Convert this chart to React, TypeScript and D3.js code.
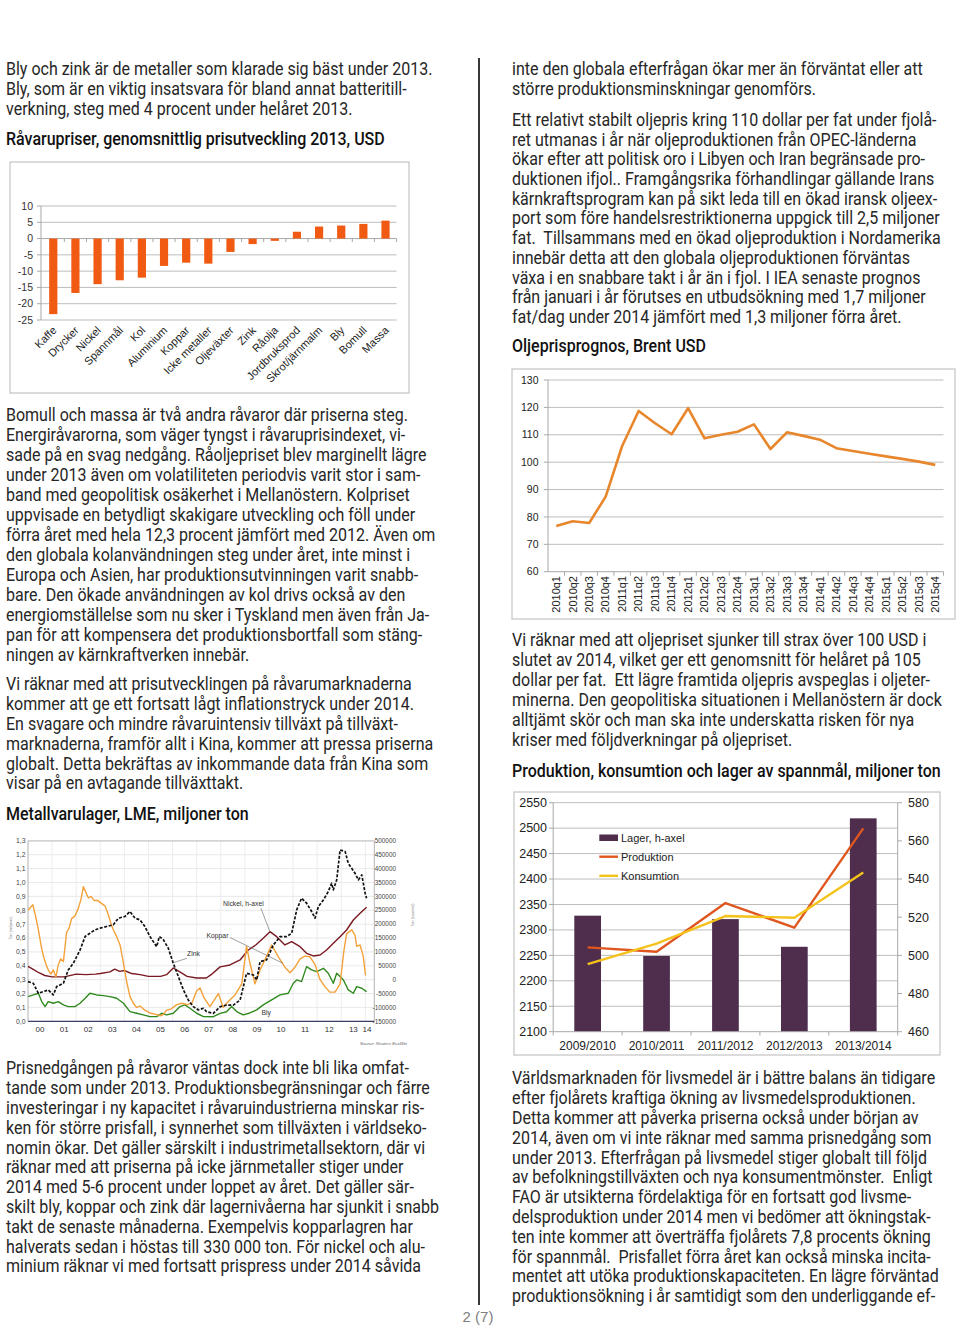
import React from 'react';
import * as d3 from 'd3';

// ---------------- Text content ----------------
const textLeftA = [
  'Bly och zink är de metaller som klarade sig bäst under 2013.',
  'Bly, som är en viktig insatsvara för bland annat batteritill-',
  'verkning, steg med 4 procent under helåret 2013.',
];
const titlePrices = 'Råvarupriser, genomsnittlig prisutveckling 2013, USD';
const textLeftB = [
  'Bomull och massa är två andra råvaror där priserna steg.',
  'Energiråvarorna, som väger tyngst i råvaruprisindexet, vi-',
  'sade på en svag nedgång. Råoljepriset blev marginellt lägre',
  'under 2013 även om volatiliteten periodvis varit stor i sam-',
  'band med geopolitisk osäkerhet i Mellanöstern. Kolpriset',
  'uppvisade en betydligt skakigare utveckling och föll under',
  'förra året med hela 12,3 procent jämfört med 2012. Även om',
  'den globala kolanvändningen steg under året, inte minst i',
  'Europa och Asien, har produktionsutvinningen varit snabb-',
  'bare. Den ökade användningen av kol drivs också av den',
  'energiomställelse som nu sker i Tyskland men även från Ja-',
  'pan för att kompensera det produktionsbortfall som stäng-',
  'ningen av kärnkraftverken innebär.',
];
const textLeftC = [
  'Vi räknar med att prisutvecklingen på råvarumarknaderna',
  'kommer att ge ett fortsatt lågt inflationstryck under 2014.',
  'En svagare och mindre råvaruintensiv tillväxt på tillväxt-',
  'marknaderna, framför allt i Kina, kommer att pressa priserna',
  'globalt. Detta bekräftas av inkommande data från Kina som',
  'visar på en avtagande tillväxttakt.',
];
const titleMetals = 'Metallvarulager, LME, miljoner ton';
const textLeftD = [
  'Prisnedgången på råvaror väntas dock inte bli lika omfat-',
  'tande som under 2013. Produktionsbegränsningar och färre',
  'investeringar i ny kapacitet i råvaruindustrierna minskar ris-',
  'ken för större prisfall, i synnerhet som tillväxten i världseko-',
  'nomin ökar. Det gäller särskilt i industrimetallsektorn, där vi',
  'räknar med att priserna på icke järnmetaller stiger under',
  '2014 med 5-6 procent under loppet av året. Det gäller sär-',
  'skilt bly, koppar och zink där lagernivåerna har sjunkit i snabb',
  'takt de senaste månaderna. Exempelvis kopparlagren har',
  'halverats sedan i höstas till 330 000 ton. För nickel och alu-',
  'minium räknar vi med fortsatt prispress under 2014 såvida',
];
const textRightE = [
  'inte den globala efterfrågan ökar mer än förväntat eller att',
  'större produktionsminskningar genomförs.',
];
const textRightF = [
  'Ett relativt stabilt oljepris kring 110 dollar per fat under fjolå-',
  'ret utmanas i år när oljeproduktionen från OPEC-länderna',
  'ökar efter att politisk oro i Libyen och Iran begränsade pro-',
  'duktionen ifjol.. Framgångsrika förhandlingar gällande Irans',
  'kärnkraftsprogram kan på sikt leda till en ökad iransk oljeex-',
  'port som före handelsrestriktionerna uppgick till 2,5 miljoner',
  'fat.  Tillsammans med en ökad oljeproduktion i Nordamerika',
  'innebär detta att den globala oljeproduktionen förväntas',
  'växa i en snabbare takt i år än i fjol. I IEA senaste prognos',
  'från januari i år förutses en utbudsökning med 1,7 miljoner',
  'fat/dag under 2014 jämfört med 1,3 miljoner förra året.',
];
const titleOil = 'Oljeprisprognos, Brent USD';
const textRightG = [
  'Vi räknar med att oljepriset sjunker till strax över 100 USD i',
  'slutet av 2014, vilket ger ett genomsnitt för helåret på 105',
  'dollar per fat.  Ett lägre framtida oljepris avspeglas i oljeter-',
  'minerna. Den geopolitiska situationen i Mellanöstern är dock',
  'alltjämt skör och man ska inte underskatta risken för nya',
  'kriser med följdverkningar på oljepriset.',
];
const titleGrain = 'Produktion, konsumtion och lager av spannmål, miljoner ton';
const textRightH = [
  'Världsmarknaden för livsmedel är i bättre balans än tidigare',
  'efter fjolårets kraftiga ökning av livsmedelsproduktionen.',
  'Detta kommer att påverka priserna också under början av',
  '2014, även om vi inte räknar med samma prisnedgång som',
  'under 2013. Efterfrågan på livsmedel stiger globalt till följd',
  'av befolkningstillväxten och nya konsumentmönster.  Enligt',
  'FAO är utsikterna fördelaktiga för en fortsatt god livsme-',
  'delsproduktion under 2014 men vi bedömer att ökningstak-',
  'ten inte kommer att överträffa fjolårets 7,8 procents ökning',
  'för spannmål.  Prisfallet förra året kan också minska incita-',
  'mentet att utöka produktionskapaciteten. En lägre förväntad',
  'produktionsökning i år samtidigt som den underliggande ef-',
];
const pageNumber = '2 (7)';

// ---------------- Chart 1: price change ----------------
const priceCategories = ['Kaffe', 'Drycker', 'Nickel', 'Spannmål', 'Kol', 'Aluminium', 'Koppar', 'Icke metaller', 'Oljeväxter', 'Zink', 'Råolja', 'Jordbruksprod', 'Skrot/järnmalm', 'Bly', 'Bomull', 'Massa'];
const priceChange2013 = [-23.2, -16.7, -14.0, -12.8, -12.0, -8.4, -7.4, -7.7, -4.1, -1.7, -0.7, 2.1, 3.7, 4.0, 4.5, 5.5];
const priceTicks = [10, 5, 0, -5, -10, -15, -20, -25];

// ---------------- Chart 2: oil ----------------
const oilQuarters = ['2010q1', '2010q2', '2010q3', '2010q4', '2011q1', '2011q2', '2011q3', '2011q4', '2012q1', '2012q2', '2012q3', '2012q4', '2013q1', '2013q2', '2013q3', '2013q4', '2014q1', '2014q2', '2014q3', '2014q4', '2015q1', '2015q2', '2015q3', '2015q4'];
const oilPrice = [76.7, 78.4, 77.8, 87.4, 105.9, 118.7, 114.2, 110.2, 119.7, 108.7, 110.0, 111.1, 113.8, 104.8, 110.9, 109.6, 108.2, 105.1, 104.1, 103.1, 102.1, 101.2, 100.2, 99.0];
const oilTicks = [60, 70, 80, 90, 100, 110, 120, 130];

// ---------------- Chart 3: grain ----------------
const grainYears = ['2009/2010', '2010/2011', '2011/2012', '2012/2013', '2013/2014'];
const grainStocks = [520.8, 499.7, 519.0, 504.5, 571.8];
const grainProduction = [2265.7, 2257.2, 2352.8, 2304.4, 2499.6];
const grainConsumption = [2232.9, 2272.9, 2327.3, 2324.0, 2413.0];
const grainLeftTicks = [2100, 2150, 2200, 2250, 2300, 2350, 2400, 2450, 2500, 2550];
const grainRightTicks = [460, 480, 500, 520, 540, 560, 580];
const grainLegend = ['Lager, h-axel', 'Produktion', 'Konsumtion'];

// ---------------- Chart 4: LME stocks ----------------
const metalYearLabels = ['00', '01', '02', '03', '04', '05', '06', '07', '08', '09', '10', '11', '12', '13', '14'];
const metalLeftTicks = [0, 0.1, 0.2, 0.3, 0.4, 0.5, 0.6, 0.7, 0.8, 0.9, 1.0, 1.1, 1.2, 1.3];
const metalRightTicks = [-150000, -100000, -50000, 0, 50000, 100000, 150000, 200000, 250000, 300000, 350000, 400000, 450000, 500000];
// [years since 2000, million tonnes]
const kopparStock: [number, number][] = [
  [0, 0.80], [0.1, 0.82], [0.2, 0.84], [0.3, 0.77], [0.43, 0.66], [0.55, 0.54], [0.64, 0.47], [0.75, 0.41], [0.84, 0.37], [0.95, 0.34],
  [1.05, 0.37], [1.16, 0.32], [1.26, 0.41], [1.36, 0.45], [1.47, 0.43], [1.6, 0.64], [1.7, 0.67], [1.81, 0.74], [1.95, 0.76], [2.08, 0.81],
  [2.2, 0.88], [2.3, 0.97], [2.4, 0.93], [2.5, 0.89], [2.62, 0.90], [2.75, 0.87], [2.9, 0.87], [3.05, 0.85], [3.2, 0.83], [3.33, 0.77],
  [3.45, 0.70], [3.54, 0.66], [3.68, 0.61], [3.82, 0.55], [3.95, 0.43], [4.09, 0.29], [4.23, 0.18], [4.37, 0.13], [4.5, 0.10], [4.65, 0.11],
  [4.85, 0.08], [5.06, 0.06], [5.3, 0.05], [5.5, 0.04], [5.62, 0.05], [5.75, 0.08], [5.95, 0.09], [6.17, 0.12], [6.4, 0.13], [6.6, 0.12],
  [6.8, 0.13], [7.0, 0.22], [7.14, 0.24], [7.3, 0.17], [7.55, 0.105], [7.9, 0.20], [8.1, 0.10], [8.24, 0.13], [8.59, 0.19], [8.87, 0.27],
  [9.07, 0.54], [9.21, 0.42], [9.42, 0.27], [9.63, 0.37], [9.9, 0.47], [10.11, 0.55], [10.37, 0.47], [10.66, 0.39], [10.87, 0.35], [11.08, 0.39],
  [11.29, 0.45], [11.49, 0.47], [11.7, 0.465], [11.91, 0.41], [12.12, 0.30], [12.32, 0.25], [12.53, 0.21], [12.74, 0.21], [12.95, 0.27], [13.11, 0.51],
  [13.22, 0.63], [13.43, 0.66], [13.57, 0.62], [13.64, 0.54], [13.78, 0.55], [13.91, 0.47], [14.01, 0.33],
];
const zinkStock: [number, number][] = [
  [0, 0.286], [0.22, 0.274], [0.43, 0.202], [0.64, 0.214], [0.84, 0.226], [1.05, 0.19], [1.19, 0.25], [1.47, 0.274], [1.67, 0.37], [1.88, 0.418],
  [2.16, 0.514], [2.37, 0.611], [2.57, 0.635], [2.78, 0.659], [2.99, 0.671], [3.26, 0.683], [3.54, 0.695], [3.75, 0.743], [4.02, 0.755], [4.23, 0.791],
  [4.44, 0.743], [4.65, 0.731], [4.85, 0.683], [5.06, 0.611], [5.34, 0.538], [5.45, 0.611], [5.62, 0.587], [5.82, 0.527], [6.03, 0.418], [6.24, 0.322],
  [6.45, 0.226], [6.65, 0.154], [6.86, 0.106], [7.07, 0.082], [7.28, 0.094], [7.41, 0.069], [7.69, 0.057], [7.97, 0.105], [8.24, 0.117], [8.52, 0.117],
  [8.8, 0.153], [9.07, 0.346], [9.35, 0.334], [9.49, 0.298], [9.63, 0.43], [9.9, 0.442], [10.18, 0.55], [10.46, 0.61], [10.73, 0.61], [10.94, 0.634],
  [11.15, 0.803], [11.35, 0.887], [11.56, 0.851], [11.77, 0.791], [11.91, 0.743], [12.05, 0.827], [12.26, 0.875], [12.46, 0.935], [12.6, 0.995], [12.67, 0.947],
  [12.81, 1.019], [12.95, 1.235], [13.16, 1.223], [13.29, 1.139], [13.43, 1.103], [13.57, 1.067], [13.71, 1.019], [13.85, 1.055], [13.99, 0.923], [14.05, 0.887],
];
const blyStock: [number, number][] = [
  [0, 0.178], [0.22, 0.19], [0.43, 0.202], [0.57, 0.142], [0.71, 0.106], [0.84, 0.142], [1.05, 0.13], [1.26, 0.142], [1.47, 0.118], [1.67, 0.106],
  [1.95, 0.106], [2.16, 0.13], [2.37, 0.166], [2.57, 0.202], [2.85, 0.19], [3.13, 0.185], [3.4, 0.178], [3.68, 0.166], [3.96, 0.13], [4.23, 0.07],
  [4.51, 0.058], [4.78, 0.046], [5.06, 0.034], [5.34, 0.034], [5.55, 0.058], [5.75, 0.046], [6.03, 0.058], [6.31, 0.106], [6.51, 0.118], [6.72, 0.094],
  [7.0, 0.058], [7.28, 0.034], [7.69, 0.033], [7.97, 0.057], [8.24, 0.069], [8.45, 0.106], [8.66, 0.07], [8.93, 0.046], [9.2, 0.06], [9.49, 0.082],
  [9.76, 0.118], [10.11, 0.154], [10.46, 0.19], [10.8, 0.202], [11.01, 0.274], [11.15, 0.298], [11.35, 0.286], [11.56, 0.394], [11.77, 0.37], [11.98, 0.358],
  [12.26, 0.382], [12.46, 0.346], [12.67, 0.274], [12.81, 0.346], [13.09, 0.298], [13.29, 0.226], [13.5, 0.202], [13.64, 0.25], [13.85, 0.238], [14.05, 0.214],
];
// [years since 2000, tonnes] (right axis)
const nickelStock: [number, number][] = [
  [0, 48000], [0.2, 38000], [0.45, 25000], [0.7, 15000], [1.0, 10000], [1.5, 10000], [2.0, 20000], [2.4, 18000], [2.8, 20000], [3.0, 22000],
  [3.4, 28000], [3.6, 38000], [3.8, 30000], [4.0, 33000], [4.3, 22000], [4.65, 18000], [5.0, 12000], [5.5, 12000], [5.75, 18000], [6.03, 42000],
  [6.3, 28000], [6.6, 12000], [7.0, 6000], [7.4, 6000], [7.6, 18000], [7.97, 46000], [8.38, 53000], [8.8, 71000], [9.14, 107000], [9.45, 125000],
  [9.76, 149000], [10.04, 173000], [10.32, 155000], [10.66, 125000], [10.94, 137000], [11.29, 119000], [11.56, 95000], [11.84, 85500], [12.12, 89000], [12.39, 107000],
  [12.67, 131000], [12.95, 155000], [13.22, 179000], [13.5, 215000], [13.78, 239000], [14.05, 261000],
];
const metalSeriesNames = ['Nickel, h-axel', 'Koppar', 'Zink', 'Bly'];

// ---------------- Styles ----------------
const BODY_FONT = 'Roboto, "Open Sans", sans-serif';
const CHART_FONT = '"Liberation Sans", Arial, sans-serif';
const SX = 0.89;
const GRID = '#bdbdbd';

function TextBlock({ x, y, lines, step = 19.85, weight = 400, size = 18, color = '#262626' }:
  { x: number; y: number; lines: string[]; step?: number; weight?: number; size?: number; color?: string }) {
  return (
    <g transform={`translate(${x},0) scale(${SX},1)`} fontFamily={BODY_FONT} fontSize={size} fontWeight={weight} fill={color}>
      {lines.map((l, i) => (
        <text key={i} x={0} y={y + i * step} style={{ whiteSpace: 'pre' }}>{l}</text>
      ))}
    </g>
  );
}

function PriceChart() {
  const x = d3.scaleBand<string>().domain(priceCategories).range([42.2, 396.6]);
  const y = d3.scaleLinear().domain([-25, 10]).range([320, 206]);
  const bw = x.bandwidth() * 0.37;
  return (
    <g fontFamily={CHART_FONT}>
      <rect x={10} y={162} width={399} height={231} fill="#fff" stroke="#c4c4c4" strokeWidth={1.2} />
      {priceTicks.map(t => (
        <g key={t}>
          <line x1={41} x2={396.6} y1={y(t)} y2={y(t)} stroke={t === 0 ? '#a8a8a8' : GRID} strokeWidth={1} />
          <line x1={37} x2={41} y1={y(t)} y2={y(t)} stroke="#a8a8a8" />
          <text x={33} y={y(t) + 3.7} textAnchor="end" fontSize={10.5} fill="#333">{t}</text>
        </g>
      ))}
      <line x1={41} x2={41} y1={y(10)} y2={y(-25)} stroke="#a8a8a8" />
      {priceCategories.map((c, i) => (
        <line key={'tk' + i} x1={(x(c) as number) + x.bandwidth()} x2={(x(c) as number) + x.bandwidth()} y1={y(0)} y2={y(0) + 3.5} stroke="#a8a8a8" />
      ))}
      {priceCategories.map((c, i) => {
        const v = priceChange2013[i];
        const cx = (x(c) as number) + x.bandwidth() / 2;
        return <rect key={c} x={cx - bw / 2} width={bw} y={Math.min(y(v), y(0))} height={Math.abs(y(v) - y(0))} fill="#F05A12" />;
      })}
      {priceCategories.map(c => {
        const cx = (x(c) as number) + x.bandwidth() / 2;
        return (
          <text key={'l' + c} transform={`translate(${cx + 4},${331}) rotate(-45)`} textAnchor="end" fontSize={11} fill="#222">{c}</text>
        );
      })}
    </g>
  );
}

function OilChart() {
  const x = d3.scaleBand<string>().domain(oilQuarters).range([548, 943.5]);
  const y = d3.scaleLinear().domain([60, 130]).range([571.7, 380]);
  const line = d3.line<number>().x((_, i) => (x(oilQuarters[i]) as number) + x.bandwidth() / 2).y(d => y(d));
  return (
    <g fontFamily={CHART_FONT}>
      <rect x={512} y={369} width={443} height={250} fill="#fff" stroke="#c4c4c4" strokeWidth={1.2} />
      {oilTicks.map(t => (
        <g key={t}>
          {t > 60 && <line x1={548} x2={943.5} y1={y(t)} y2={y(t)} stroke={GRID} />}
          <line x1={544} x2={548} y1={y(t)} y2={y(t)} stroke="#a8a8a8" />
          <text x={538.5} y={y(t) + 3.6} textAnchor="end" fontSize={10.5} fill="#222">{t}</text>
        </g>
      ))}
      <line x1={548} x2={548} y1={y(130)} y2={y(60)} stroke="#a8a8a8" />
      <line x1={548} x2={943.5} y1={y(60)} y2={y(60)} stroke="#a8a8a8" />
      {oilQuarters.map((q, i) => (
        <line key={'t' + q} x1={(x(q) as number) + x.bandwidth()} x2={(x(q) as number) + x.bandwidth()} y1={y(60)} y2={y(60) + 4} stroke="#a8a8a8" />
      ))}
      <path d={line(oilPrice) || ''} fill="none" stroke="#E8862C" strokeWidth={2.6} strokeLinejoin="round" />
      {oilQuarters.map(q => {
        const cx = (x(q) as number) + x.bandwidth() / 2;
        return <text key={q} transform={`translate(${cx + 3.8},${576}) rotate(-90)`} textAnchor="end" fontSize={11} fill="#222">{q}</text>;
      })}
    </g>
  );
}

function GrainChart() {
  const x = d3.scaleBand<string>().domain(grainYears).range([553.2, 897.7]);
  const yL = d3.scaleLinear().domain([2100, 2550]).range([1031.7, 802.7]);
  const yR = d3.scaleLinear().domain([460, 580]).range([1031.7, 802.7]);
  const cx = (c: string) => (x(c) as number) + x.bandwidth() / 2;
  const bw = 26.7;
  const lineL = d3.line<number>().x((_, i) => cx(grainYears[i])).y(d => yL(d));
  return (
    <g fontFamily={CHART_FONT}>
      <rect x={514} y={792} width={426} height={263} fill="#fff" stroke="#c4c4c4" strokeWidth={1.2} />
      {grainLeftTicks.map(t => (
        <g key={t}>
          {t > 2100 && <line x1={553.2} x2={897.7} y1={yL(t)} y2={yL(t)} stroke={GRID} />}
          <line x1={549} x2={553.2} y1={yL(t)} y2={yL(t)} stroke="#a8a8a8" />
          <text x={547} y={yL(t) + 4.3} textAnchor="end" fontSize={12.5} fill="#222">{t}</text>
        </g>
      ))}
      {grainRightTicks.map(t => (
        <g key={'r' + t}>
          <line x1={897.7} x2={902} y1={yR(t)} y2={yR(t)} stroke="#a8a8a8" />
          <text x={908} y={yR(t) + 4.3} fontSize={12.5} fill="#222">{t}</text>
        </g>
      ))}
      <line x1={553.2} x2={553.2} y1={802.7} y2={1031.7} stroke="#a8a8a8" />
      <line x1={897.7} x2={897.7} y1={802.7} y2={1031.7} stroke="#a8a8a8" />
      {grainYears.map((c, i) => (
        <rect key={c} x={cx(c) - bw / 2} width={bw} y={yR(grainStocks[i])} height={yR(460) - yR(grainStocks[i])} fill="#4E2E4C" />
      ))}
      <line x1={553.2} x2={897.7} y1={1031.7} y2={1031.7} stroke="#a8a8a8" />
      {[553.2, ...grainYears.map(c => (x(c) as number) + x.bandwidth())].map((t, i) => (
        <line key={'gt' + i} x1={t} x2={t} y1={1031.7} y2={1035.5} stroke="#a8a8a8" />
      ))}
      <path d={lineL(grainProduction) || ''} fill="none" stroke="#E0561F" strokeWidth={2.4} strokeLinejoin="round" />
      <path d={lineL(grainConsumption) || ''} fill="none" stroke="#F4C21B" strokeWidth={2.4} strokeLinejoin="round" />
      {grainYears.map(c => (
        <text key={'x' + c} x={cx(c)} y={1050} textAnchor="middle" fontSize={12} fill="#222">{c}</text>
      ))}
      <rect x={599.3} y={834.5} width={18.7} height={6.5} fill="#4E2E4C" />
      <line x1={599.3} x2={618} y1={856.7} y2={856.7} stroke="#E0561F" strokeWidth={2.4} />
      <line x1={599.3} x2={618} y1={875.8} y2={875.8} stroke="#F4C21B" strokeWidth={2.4} />
      {grainLegend.map((l, i) => (
        <text key={l} x={621} y={[841.5, 860.7, 879.8][i]} fontSize={11} fill="#222">{l}</text>
      ))}
    </g>
  );
}

function MetalChart() {
  const x = d3.scaleLinear().domain([0, 14.37]).range([28, 374.3]);
  const yL = d3.scaleLinear().domain([0, 1.3]).range([1021.3, 840.9]);
  const yR = d3.scaleLinear().domain([-150000, 500000]).range([1021.3, 840.9]);
  const lineL = d3.line<[number, number]>().x(d => x(d[0])).y(d => yL(d[1]));
  const lineR = d3.line<[number, number]>().x(d => x(d[0])).y(d => yR(d[1]));
  const fmtL = (v: number) => v.toFixed(1).replace('.', ',');
  const years = d3.range(1, 15);
  return (
    <g fontFamily={CHART_FONT}>
      {metalLeftTicks.map(t => (
        <line key={'h' + t} x1={28} x2={374.3} y1={yL(t)} y2={yL(t)} stroke="#e3e3e3" strokeWidth={0.8} />
      ))}
      {years.map(t => (
        <line key={'v' + t} x1={x(t)} x2={x(t)} y1={840.9} y2={1021.3} stroke="#e8e8e8" strokeWidth={0.8} />
      ))}
      <line x1={28} x2={374.3} y1={840.9} y2={840.9} stroke="#b0b0b0" strokeWidth={0.8} />
      <line x1={28} x2={28} y1={840.9} y2={1021.3} stroke="#a0a0a0" strokeWidth={0.8} />
      <line x1={374.3} x2={374.3} y1={840.9} y2={1021.3} stroke="#a0a0a0" strokeWidth={0.8} />
      <path d={lineR(nickelStock) || ''} fill="none" stroke="#7A1A22" strokeWidth={1.4} strokeLinejoin="round" />
      <path d={lineL(blyStock) || ''} fill="none" stroke="#2F8A1E" strokeWidth={1.4} strokeLinejoin="round" />
      <path d={lineL(kopparStock) || ''} fill="none" stroke="#F3A13A" strokeWidth={1.4} strokeLinejoin="round" />
      <path d={lineL(zinkStock) || ''} fill="none" stroke="#111" strokeWidth={1.7} strokeDasharray="3,1.6" strokeLinejoin="round" />
      <line x1={28} x2={374.3} y1={1021.3} y2={1021.3} stroke="#3a3f6a" strokeWidth={1.2} />
      {metalLeftTicks.map(t => (
        <text key={'lt' + t} x={25.5} y={yL(t) + 2.4} textAnchor="end" fontSize={6.8} fill="#444">{fmtL(t)}</text>
      ))}
      {metalRightTicks.map(t => (
        <text key={'rt' + t} x={396} y={yR(t) + 2.2} textAnchor="end" fontSize={6.4} fill="#444">{t}</text>
      ))}
      {metalYearLabels.map((l, i) => (
        <text key={'y' + l} x={x(Math.min(i + 0.5, 14.07))} y={1031.5} textAnchor="middle" fontSize={8} fill="#333">{l}</text>
      ))}
      <text transform="translate(11.5,928) rotate(-90)" textAnchor="middle" fontSize={3.8} fill="#777">Ton (miljoner)</text>
      <text transform="translate(413.5,915) rotate(-90)" textAnchor="middle" fontSize={3.8} fill="#777">Ton (tusental)</text>
      <text x={407} y={1045} textAnchor="end" fontSize={4.3} fontStyle="italic" fill="#666">Source: Reuters EcoWin</text>
      {/* series labels with pointers */}
      <line x1={261} y1={908.5} x2={270} y2={932} stroke="#777" strokeWidth={0.7} />
      <text x={223} y={906.3} fontSize={6.8} fill="#333">{metalSeriesNames[0]}</text>
      <line x1={230} y1={937.5} x2={283} y2={963.3} stroke="#777" strokeWidth={0.7} />
      <text x={206.5} y={937.8} fontSize={6.8} fill="#333">{metalSeriesNames[1]}</text>
      <line x1={187} y1={958.3} x2={173.3} y2={962.7} stroke="#777" strokeWidth={0.7} />
      <text x={187} y={956.3} fontSize={6.8} fill="#333">{metalSeriesNames[2]}</text>
      <text x={261.5} y={1015} fontSize={6.8} fill="#333">{metalSeriesNames[3]}</text>
    </g>
  );
}

export default function App() {
  return (
    <svg width={960} height={1327} viewBox="0 0 960 1327" style={{ position: 'absolute', left: 0, top: 0, background: '#fff' }}>
      <rect x={0} y={0} width={960} height={1327} fill="#fff" />
      {/* left column */}
      <TextBlock x={6} y={75} lines={textLeftA} step={20} />
      <TextBlock x={6} y={145} lines={[titlePrices]} weight={500} color="#111" />
      <PriceChart />
      <TextBlock x={6} y={421.5} lines={textLeftB} step={19.92} />
      <TextBlock x={6} y={690.5} lines={textLeftC} step={19.8} />
      <TextBlock x={6} y={820.5} lines={[titleMetals]} weight={500} color="#111" />
      <MetalChart />
      <TextBlock x={6} y={1074.5} lines={textLeftD} step={19.8} />
      {/* divider */}
      <line x1={479} x2={479} y1={58} y2={1305} stroke="#222" strokeWidth={1.8} />
      <text x={478} y={1322} textAnchor="middle" fontFamily={CHART_FONT} fontSize={15} fill="#808080">{pageNumber}</text>
      {/* right column */}
      <TextBlock x={512} y={75} lines={textRightE} step={20} />
      <TextBlock x={512} y={126} lines={textRightF} step={19.7} />
      <TextBlock x={512} y={352} lines={[titleOil]} weight={500} color="#111" />
      <OilChart />
      <TextBlock x={512} y={646.5} lines={textRightG} step={20} />
      <TextBlock x={512} y={777.5} lines={[titleGrain]} weight={500} color="#111" />
      <GrainChart />
      <TextBlock x={512} y={1084.5} lines={textRightH} step={19.8} />
    </svg>
  );
}
